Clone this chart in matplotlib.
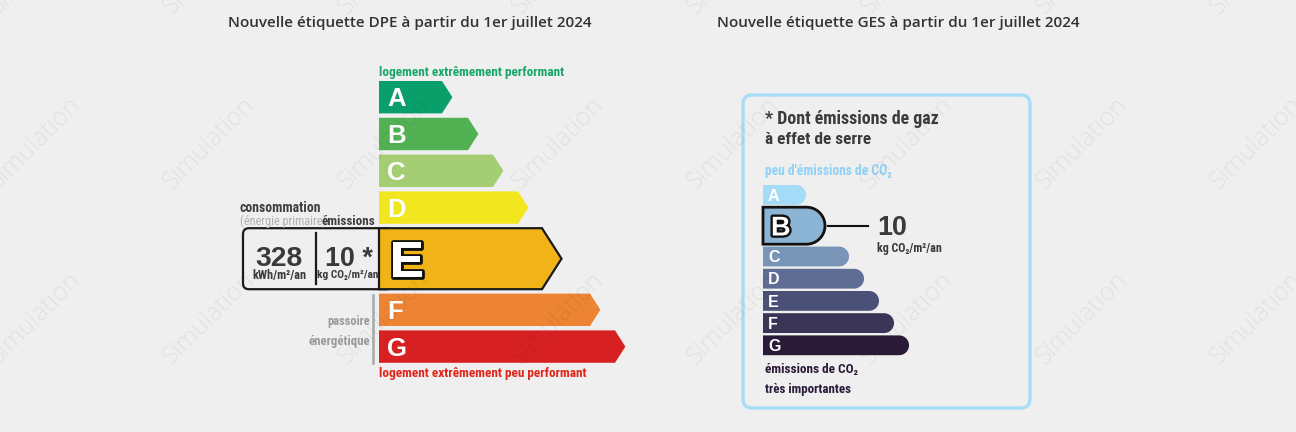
import matplotlib
matplotlib.use("Agg")
import matplotlib.pyplot as plt
from matplotlib.patches import Polygon, FancyBboxPatch
import matplotlib.patheffects as pe
from matplotlib import font_manager as fm
import numpy as np

# ---------------- data ----------------
dpe_classes = ["A", "B", "C", "D", "E", "F", "G"]
dpe_lengths = [63, 89, 114, 139, 163, 211, 236]
dpe_colors = ["#0a9e6a", "#52b153", "#a5cd74", "#f2e61f", "#f0b418", "#ec8434", "#d72022"]
dpe_current = "E"
conso_value = "328"
conso_unit = "kWh/m²/an"
emission_value = "10"
emission_unit = "kg CO₂/m²/an"

ges_classes = ["A", "B", "C", "D", "E", "F", "G"]
ges_lengths = [43, 62, 86, 101, 116, 131, 146]
ges_colors = ["#a4dbf7", "#8cb4d4", "#7894b6", "#5f6c93", "#4b5076", "#3a3556", "#2a1a38"]
ges_current = "B"

title_dpe = "Nouvelle étiquette DPE à partir du 1er juillet 2024"
title_ges = "Nouvelle étiquette GES à partir du 1er juillet 2024"
watermark = "Simulation"

BG = "#efefef"
names = {f.name for f in fm.fontManager.ttflist}
LAB = "Liberation Sans"
for cand in ["Liberation Sans Narrow", "Roboto Condensed", "Open Sans Condensed", "Roboto"]:
    if cand in names:
        LAB = cand
        break
LABF = [LAB, "DejaVu Sans"]
NUMF = ["Liberation Sans", "DejaVu Sans"]

fig = plt.figure(figsize=(12.96, 4.32), dpi=100, facecolor=BG)
ax = fig.add_axes([0, 0, 1, 1])
ax.set_xlim(0, 1296)
ax.set_ylim(432, 0)
ax.axis("off")
ax.set_facecolor(BG)
renderer = fig.canvas.get_renderer()


def fit(x, y, s, width, ha="left", family=None, weight="bold", color="#3c3c3c", **kw):
    t = ax.text(x, y, s, fontsize=10, ha=ha, va="baseline",
                family=family or LABF, fontweight=weight, color=color, zorder=6, **kw)
    w = t.get_window_extent(renderer).width
    t.set_fontsize(10 * width / w)
    return t


def cap_letter(x, cy, s, pt, stroke=False, zorder=5):
    em = pt * 100 / 72
    t = ax.text(x, cy + 0.36 * em, s, fontsize=pt, ha="left", va="baseline",
                family="Liberation Sans", fontweight="bold", color="white", zorder=zorder)
    if stroke:
        t.set_path_effects([pe.withStroke(linewidth=3.4, foreground="#111111")])
    return t


# ---------------- titles ----------------
fit(409.5, 27, title_dpe, 364, ha="center", family="Open Sans", weight="semibold", color="#333333")
fit(898.5, 27, title_ges, 363, ha="center", family="Open Sans", weight="semibold", color="#333333")

# ---------------- DPE ----------------
X0 = 379
y = 81.0
tops = {}
for cls, L, col in zip(dpe_classes, dpe_lengths, dpe_colors):
    cur = cls == dpe_current
    h = 61.0 if cur else 32.4
    d = 0.64 * h / 2
    pts = [(X0, y), (X0 + L, y), (X0 + L + d, y + h / 2), (X0 + L, y + h), (X0, y + h)]
    ax.add_patch(Polygon(pts, closed=True, fc=col, ec="#1a1a1a" if cur else "none",
                         lw=1.6 if cur else 0, joinstyle="miter", zorder=3))
    if cur:
        cap_letter(390, y + h / 2, cls, 37, stroke=True)
    else:
        cap_letter(387, y + h / 2, cls, 18.5)
    tops[cls] = (y, h)
    y += h + 4.4

ey, eh = tops[dpe_current]
ax.add_patch(FancyBboxPatch((243, ey), 150, eh, boxstyle="round,pad=0,rounding_size=6",
                            fc=BG, ec="#1a1a1a", lw=1.6, zorder=2))
ax.plot([316, 316], [ey + 5, ey + eh - 5], color="#1a1a1a", lw=1.6, zorder=4)

fit(278.5, 266, conso_value, 47, ha="center", family=NUMF, color="#3a3a3a")
fit(279, 278.5, conso_unit, 54, ha="center", color="#3a3a3a")
fit(325, 266, emission_value + " *", 48, family=NUMF, color="#3a3a3a")
fit(317, 278.5, emission_unit, 61, color="#3a3a3a")

fit(240, 211.5, "consommation", 81, color="#3f3f3f")
fit(240, 225, "(énergie primaire)", 86, weight="normal", color="#b0b0b0")
fit(322, 225, "émissions", 54, color="#3f3f3f")

fy, fh = tops["F"]
gy, gh = tops["G"]
ax.plot([373, 373], [fy + 1, gy + gh], color="#a8a8a8", lw=1.8, zorder=4)
fit(370, 325, "passoire", 43, ha="right", color="#9a9a9a")
fit(370, 345, "énergétique", 62, ha="right", color="#9a9a9a")

fit(379, 76, "logement extrêmement performant", 184, color="#17a66c")
fit(379, 377, "logement extrêmement peu performant", 207, color="#e1261c")

# ---------------- GES ----------------
ax.add_patch(FancyBboxPatch((743, 95), 287, 313, boxstyle="round,pad=0,rounding_size=9",
                            fc="none", ec="#a9dcf6", lw=2.4, zorder=2))
fit(765, 124, "* Dont émissions de gaz", 174, color="#3c3c3c")
fit(765, 144, "à effet de serre", 106, color="#3c3c3c")
fit(765, 175, "peu d'émissions de CO₂", 127, color="#8fd2f4")

GX = 763
y = 185.0
for cls, L, col in zip(ges_classes, ges_lengths, ges_colors):
    cur = cls == ges_current
    h = 37.0 if cur else 19.8
    r = h / 2
    xr = GX + L
    cx = xr - r
    th = np.linspace(-np.pi / 2, np.pi / 2, 40)
    arc = np.column_stack([cx + r * np.cos(th), y + r + r * np.sin(th)])
    pts = np.vstack([[[GX, y]], arc, [[GX, y + h]]])
    ax.add_patch(Polygon(pts, closed=True, fc=col, ec="#111111" if cur else "none",
                         lw=2.0 if cur else 0, zorder=3))
    if cur:
        cap_letter(771, y + h / 2, cls, 19.5, stroke=True)
        ax.plot([xr + 3, 868], [y + h / 2, y + h / 2], color="#111111", lw=1.5, zorder=4)
    else:
        cap_letter(768, y + h / 2, cls, 11.5)
    y += h + 2.4

fit(877, 235, emission_value, 30, family=NUMF, color="#3a3a3a")
fit(877, 252, emission_unit, 65, color="#3a3a3a")
fit(765, 373, "émissions de CO₂", 93, color="#2a1a38")
fit(765, 393, "très importantes", 86, color="#2a1a38")

# ---------------- watermarks ----------------
for i in range(8):
    for j in range(3):
        ax.text(35 + 174.5 * i, -32 + 175 * j, watermark, rotation=45, rotation_mode="anchor",
                ha="center", va="center", fontsize=18, family="Open Sans", fontweight="light",
                color="black", alpha=0.06, zorder=10)

fig.savefig("out.png", dpi=100, facecolor=BG)
